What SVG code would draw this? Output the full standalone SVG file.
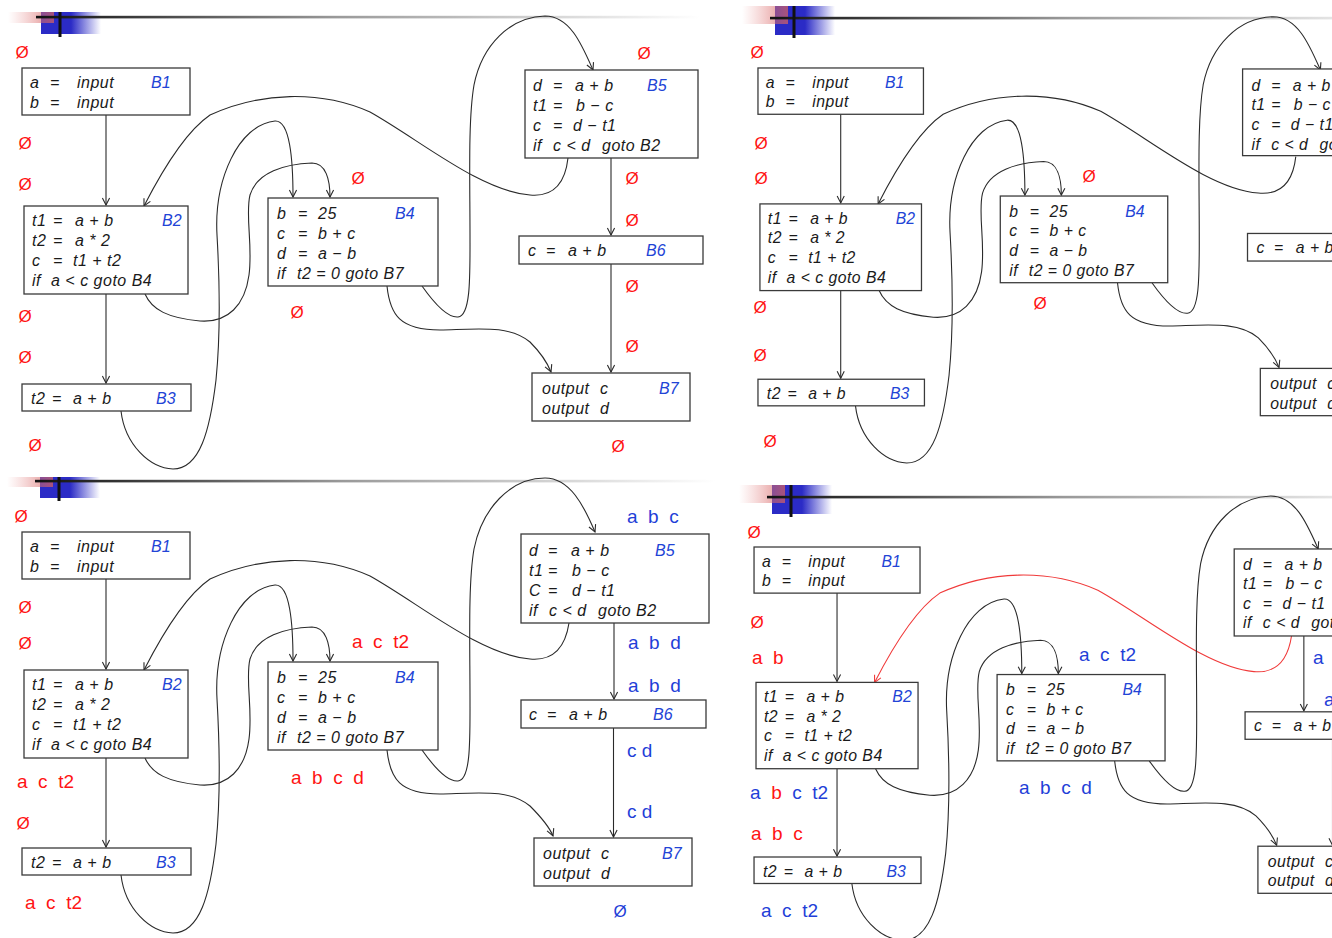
<svg xmlns="http://www.w3.org/2000/svg" width="1332" height="938" viewBox="0 0 1332 938">
<defs>
<style>
.box{fill:#fff;stroke:#3a3a3a;stroke-width:1.3}
.t{font-family:"Liberation Sans",Arial,sans-serif;font-style:italic;font-size:16px;letter-spacing:0.5px;fill:#1a1a1a}
.lb{font-family:"Liberation Sans",Arial,sans-serif;font-style:italic;font-size:16px;fill:#2244d6}
.e{fill:none;stroke:#2a2a2a;stroke-width:1.1;marker-end:url(#ah)}
.er{fill:none;stroke:#f03a3a;stroke-width:1.1;marker-end:url(#ahr)}
.a{font-family:"Liberation Sans",Arial,sans-serif;font-size:19px;white-space:pre}
.z{font-family:"Liberation Sans",Arial,sans-serif;font-size:17px;text-anchor:middle}
.r{fill:#ff1414}
.b{fill:#1f3fd8}
</style>
<linearGradient id="gRed" x1="0" y1="0" x2="1" y2="0"><stop offset="0" stop-color="#e88a8a" stop-opacity="0"/><stop offset="1" stop-color="#d46060" stop-opacity="0.75"/></linearGradient>
<linearGradient id="gBlue" x1="0" y1="0" x2="1" y2="0"><stop offset="0" stop-color="#2b2bc6"/><stop offset="0.5" stop-color="#2b2bc6"/><stop offset="1" stop-color="#2b2bc6" stop-opacity="0"/></linearGradient>
<linearGradient id="gLine" x1="0" y1="0" x2="1" y2="0"><stop offset="0" stop-color="#111"/><stop offset="0.12" stop-color="#333"/><stop offset="0.45" stop-color="#999"/><stop offset="1" stop-color="#fff"/></linearGradient>
<marker id="ah" viewBox="-9 -5 10 10" refX="0" refY="0" markerWidth="10" markerHeight="10" orient="auto" markerUnits="userSpaceOnUse" overflow="visible"><path d="M-7,-3.6 L0,0 L-7,3.6" fill="none" stroke="#2a2a2a" stroke-width="1.1"/></marker>
<marker id="ahr" viewBox="-9 -5 10 10" refX="0" refY="0" markerWidth="10" markerHeight="10" orient="auto" markerUnits="userSpaceOnUse" overflow="visible"><path d="M-7,-3.6 L0,0 L-7,3.6" fill="none" stroke="#f03a3a" stroke-width="1.1"/></marker>
</defs>
<rect width="1332" height="938" fill="#fff"/>

<!-- ================= PANEL 1 ================= -->
<g id="p1-header">
<rect x="41" y="12" width="60" height="22" fill="url(#gBlue)"/>
<rect x="8" y="12" width="46" height="11" fill="url(#gRed)"/>
<rect x="36" y="15.8" width="664" height="2.6" fill="url(#gLine)"/>
<rect x="58.5" y="12" width="3" height="25" fill="#111"/>
</g>
<g id="p1">
<g id="p1-connectors">
<path class="e" d="M106,115 V205"/>
<path class="e" d="M106,294 V383"/>
<path class="e" d="M611,158 V235"/>
<path class="e" d="M611,264 V372"/>
<path class="e" d="M568,158 C565,185 552,197 530,195 C480,191 420,140 370,112 C320,90 260,92 210,115 C188,130 165,165 144,206"/>
<path class="e" d="M145,294 C152,310 168,318 200,321 C228,323 245,305 249,275 C253,245 245,215 250,195 C257,172 285,164 312,163 C326,163 330,180 330,197"/>
<path class="e" d="M121,411 C125,445 150,468 173,469 C200,469 210,430 216,380 C221,330 219,270 217,235 C214,180 238,125 275,121 C290,120 293,160 293,197"/>
<path class="e" d="M422,286 C434,303 447,318 458,317 C471,316 470,275 470,235 C470,180 468,120 474,85 C482,45 510,17 545,16 C570,16 582,45 593,70"/>
<path class="e" d="M387,286 C390,315 400,330 440,330 C480,329 510,325 530,342 C540,352 547,362 551,372"/>
</g>
<g id="p1-B1"><rect class="box" x="22" y="68" width="168" height="47"/>
<text class="t" y="88"><tspan x="30">a </tspan><tspan x="50">= </tspan><tspan x="77">input</tspan></text>
<text class="t" y="108"><tspan x="30">b </tspan><tspan x="50">= </tspan><tspan x="77">input</tspan></text>
<text class="lb" x="151" y="88">B1</text></g>
<g id="p1-B2"><rect class="box" x="24" y="206" width="164" height="88"/>
<text class="t" y="226"><tspan x="32">t1 </tspan><tspan x="53">= </tspan><tspan x="75">a + b</tspan></text>
<text class="t" y="246"><tspan x="32">t2 </tspan><tspan x="53">= </tspan><tspan x="75">a * 2</tspan></text>
<text class="t" y="266"><tspan x="32">c </tspan><tspan x="53">= </tspan><tspan x="73">t1 + t2</tspan></text>
<text class="t" y="286"><tspan x="32">if </tspan><tspan x="51">a &lt; c goto B4</tspan></text>
<text class="lb" x="162" y="226">B2</text></g>
<g id="p1-B3"><rect class="box" x="22" y="384" width="169" height="27"/>
<text class="t" y="404"><tspan x="31">t2 </tspan><tspan x="52">= </tspan><tspan x="73">a + b</tspan></text>
<text class="lb" x="156" y="404">B3</text></g>
<g id="p1-B4"><rect class="box" x="268" y="198" width="170" height="88"/>
<text class="t" y="219"><tspan x="277">b </tspan><tspan x="298">= </tspan><tspan x="318">25</tspan></text>
<text class="t" y="239"><tspan x="277">c </tspan><tspan x="298">= </tspan><tspan x="318">b + c</tspan></text>
<text class="t" y="259"><tspan x="277">d </tspan><tspan x="298">= </tspan><tspan x="318">a − b</tspan></text>
<text class="t" y="279"><tspan x="277">if </tspan><tspan x="297">t2 = 0 goto B7</tspan></text>
<text class="lb" x="395" y="219">B4</text></g>
<g id="p1-B5"><rect class="box" x="525" y="70" width="173" height="88"/>
<text class="t" y="91"><tspan x="533">d </tspan><tspan x="553">= </tspan><tspan x="575">a + b</tspan></text>
<text class="t" y="111"><tspan x="533">t1 </tspan><tspan x="553">= </tspan><tspan x="576">b − c</tspan></text>
<text class="t" y="131"><tspan x="533">c </tspan><tspan x="553">= </tspan><tspan x="573">d − t1</tspan></text>
<text class="t" y="151"><tspan x="533">if </tspan><tspan x="553">c &lt; d </tspan><tspan x="602">goto B2</tspan></text>
<text class="lb" x="647" y="91">B5</text></g>
<g id="p1-B6"><rect class="box" x="519" y="236" width="184" height="28"/>
<text class="t" y="256"><tspan x="528">c </tspan><tspan x="546">= </tspan><tspan x="568">a + b</tspan></text>
<text class="lb" x="646" y="256">B6</text></g>
<g id="p1-B7"><rect class="box" x="532" y="373" width="158" height="48"/>
<text class="t" y="394"><tspan x="542">output </tspan><tspan x="600">c</tspan></text>
<text class="t" y="414"><tspan x="542">output </tspan><tspan x="600">d</tspan></text>
<text class="lb" x="659" y="394">B7</text></g>
</g>
<g id="p1-sets">
<text class="z r" x="22" y="58">Ø</text>
<text class="z r" x="25" y="149">Ø</text>
<text class="z r" x="25" y="190">Ø</text>
<text class="z r" x="358" y="184">Ø</text>
<text class="z r" x="25" y="322">Ø</text>
<text class="z r" x="25" y="363">Ø</text>
<text class="z r" x="35" y="451">Ø</text>
<text class="z r" x="297" y="318">Ø</text>
<text class="z r" x="644" y="59">Ø</text>
<text class="z r" x="632" y="184">Ø</text>
<text class="z r" x="632" y="226">Ø</text>
<text class="z r" x="632" y="292">Ø</text>
<text class="z r" x="632" y="352">Ø</text>
<text class="z r" x="618" y="452">Ø</text>
</g>

<!-- ================= PANEL 2 ================= -->
<g id="p2-header">
<rect x="775" y="6" width="60" height="29" fill="url(#gBlue)"/>
<rect x="742" y="6" width="46" height="18" fill="url(#gRed)"/>
<rect x="770" y="16.8" width="660" height="2.6" fill="url(#gLine)"/>
<rect x="792.5" y="6" width="3" height="32" fill="#111"/>
</g>
<g id="p2" transform="matrix(0.985 0 0 0.985 736.3 1)">
<g id="p2-connectors">
<path class="e" d="M106,115 V205"/>
<path class="e" d="M106,294 V383"/>
<path class="e" d="M568,158 C565,185 552,197 530,195 C480,191 420,140 370,112 C320,90 260,92 210,115 C188,130 165,165 144,206"/>
<path class="e" d="M145,294 C152,310 168,318 200,321 C228,323 245,305 249,275 C253,245 245,215 250,195 C257,172 285,164 312,163 C326,163 330,180 330,197"/>
<path class="e" d="M121,411 C125,445 150,468 173,469 C200,469 210,430 216,380 C221,330 219,270 217,235 C214,180 238,125 275,121 C290,120 293,160 293,197"/>
<path class="e" d="M422,286 C434,303 447,318 458,317 C471,316 470,275 470,235 C470,180 468,120 474,85 C482,45 510,17 545,16 C570,16 582,45 593,70"/>
<path class="e" d="M387,286 C390,315 400,330 440,330 C480,329 510,325 530,342 C540,352 547,362 551,372"/>
</g>
<g id="p2-B1"><rect class="box" x="22" y="68" width="168" height="47"/>
<text class="t" y="88"><tspan x="30">a </tspan><tspan x="50">= </tspan><tspan x="77">input</tspan></text>
<text class="t" y="108"><tspan x="30">b </tspan><tspan x="50">= </tspan><tspan x="77">input</tspan></text>
<text class="lb" x="151" y="88">B1</text></g>
<g id="p2-B2"><rect class="box" x="24" y="206" width="164" height="88"/>
<text class="t" y="226"><tspan x="32">t1 </tspan><tspan x="53">= </tspan><tspan x="75">a + b</tspan></text>
<text class="t" y="246"><tspan x="32">t2 </tspan><tspan x="53">= </tspan><tspan x="75">a * 2</tspan></text>
<text class="t" y="266"><tspan x="32">c </tspan><tspan x="53">= </tspan><tspan x="73">t1 + t2</tspan></text>
<text class="t" y="286"><tspan x="32">if </tspan><tspan x="51">a &lt; c goto B4</tspan></text>
<text class="lb" x="162" y="226">B2</text></g>
<g id="p2-B3"><rect class="box" x="22" y="384" width="169" height="27"/>
<text class="t" y="404"><tspan x="31">t2 </tspan><tspan x="52">= </tspan><tspan x="73">a + b</tspan></text>
<text class="lb" x="156" y="404">B3</text></g>
<g id="p2-B4"><rect class="box" x="268" y="198" width="170" height="88"/>
<text class="t" y="219"><tspan x="277">b </tspan><tspan x="298">= </tspan><tspan x="318">25</tspan></text>
<text class="t" y="239"><tspan x="277">c </tspan><tspan x="298">= </tspan><tspan x="318">b + c</tspan></text>
<text class="t" y="259"><tspan x="277">d </tspan><tspan x="298">= </tspan><tspan x="318">a − b</tspan></text>
<text class="t" y="279"><tspan x="277">if </tspan><tspan x="297">t2 = 0 goto B7</tspan></text>
<text class="lb" x="395" y="219">B4</text></g>
<g id="p2-B5"><rect class="box" x="514" y="69" width="173" height="88"/>
<text class="t" y="91"><tspan x="523">d </tspan><tspan x="543">= </tspan><tspan x="565">a + b</tspan></text>
<text class="t" y="111"><tspan x="523">t1 </tspan><tspan x="543">= </tspan><tspan x="566">b − c</tspan></text>
<text class="t" y="131"><tspan x="523">c </tspan><tspan x="543">= </tspan><tspan x="563">d − t1</tspan></text>
<text class="t" y="151"><tspan x="523">if </tspan><tspan x="543">c &lt; d </tspan><tspan x="592">goto B2</tspan></text>
<text class="lb" x="637" y="91">B5</text></g>
<g id="p2-B6"><rect class="box" x="519" y="236" width="184" height="28"/>
<text class="t" y="256"><tspan x="528">c </tspan><tspan x="546">= </tspan><tspan x="568">a + b</tspan></text>
<text class="lb" x="646" y="256">B6</text></g>
<g id="p2-B7"><rect class="box" x="532" y="373" width="158" height="48"/>
<text class="t" y="394"><tspan x="542">output </tspan><tspan x="600">c</tspan></text>
<text class="t" y="414"><tspan x="542">output </tspan><tspan x="600">d</tspan></text>
<text class="lb" x="659" y="394">B7</text></g>
</g>
<g id="p2-sets">
<text class="z r" x="757" y="58">Ø</text>
<text class="z r" x="761" y="149">Ø</text>
<text class="z r" x="761" y="184">Ø</text>
<text class="z r" x="1089" y="182">Ø</text>
<text class="z r" x="760" y="313">Ø</text>
<text class="z r" x="760" y="361">Ø</text>
<text class="z r" x="770" y="447">Ø</text>
<text class="z r" x="1040" y="309">Ø</text>
</g>

<!-- ================= PANEL 3 ================= -->
<g id="p3-header">
<rect x="40" y="477" width="60" height="21" fill="url(#gBlue)"/>
<rect x="7" y="477" width="46" height="10" fill="url(#gRed)"/>
<rect x="35" y="479.8" width="680" height="2.6" fill="url(#gLine)"/>
<rect x="57.5" y="477" width="3" height="24" fill="#111"/>
</g>
<g id="p3" transform="translate(0 464)">
<g id="p3-connectors">
<path class="e" d="M106,115 V205"/>
<path class="e" d="M106,294 V383"/>
<path class="e" d="M614,159 V235"/>
<path class="e" d="M613.5,264 V373"/>
<path class="e" d="M569,159 C565,185 552,197 530,195 C480,191 420,140 370,112 C320,90 260,92 210,115 C188,130 165,165 144,206"/>
<path class="e" d="M145,294 C152,310 168,318 200,321 C228,323 245,305 249,275 C253,245 245,215 250,195 C257,172 285,164 312,163 C326,163 330,180 330,197"/>
<path class="e" d="M121,411 C125,445 150,468 173,469 C200,469 210,430 216,380 C221,330 219,270 217,235 C214,180 238,125 275,121 C290,120 293,160 293,197"/>
<path class="e" d="M422,286 C434,303 447,318 458,317 C471,316 470,275 470,235 C470,180 468,120 474,85 C482,45 510,14 545,14 C570,14 584,42 595,68"/>
<path class="e" d="M387,286 C390,315 400,330 440,330 C480,329 510,325 530,342 C540,352 549,362 553,372"/>
</g>
<g id="p3-B1"><rect class="box" x="22" y="68" width="168" height="47"/>
<text class="t" y="88"><tspan x="30">a </tspan><tspan x="50">= </tspan><tspan x="77">input</tspan></text>
<text class="t" y="108"><tspan x="30">b </tspan><tspan x="50">= </tspan><tspan x="77">input</tspan></text>
<text class="lb" x="151" y="88">B1</text></g>
<g id="p3-B2"><rect class="box" x="24" y="206" width="164" height="88"/>
<text class="t" y="226"><tspan x="32">t1 </tspan><tspan x="53">= </tspan><tspan x="75">a + b</tspan></text>
<text class="t" y="246"><tspan x="32">t2 </tspan><tspan x="53">= </tspan><tspan x="75">a * 2</tspan></text>
<text class="t" y="266"><tspan x="32">c </tspan><tspan x="53">= </tspan><tspan x="73">t1 + t2</tspan></text>
<text class="t" y="286"><tspan x="32">if </tspan><tspan x="51">a &lt; c goto B4</tspan></text>
<text class="lb" x="162" y="226">B2</text></g>
<g id="p3-B3"><rect class="box" x="22" y="384" width="169" height="27"/>
<text class="t" y="404"><tspan x="31">t2 </tspan><tspan x="52">= </tspan><tspan x="73">a + b</tspan></text>
<text class="lb" x="156" y="404">B3</text></g>
<g id="p3-B4"><rect class="box" x="268" y="198" width="170" height="88"/>
<text class="t" y="219"><tspan x="277">b </tspan><tspan x="298">= </tspan><tspan x="318">25</tspan></text>
<text class="t" y="239"><tspan x="277">c </tspan><tspan x="298">= </tspan><tspan x="318">b + c</tspan></text>
<text class="t" y="259"><tspan x="277">d </tspan><tspan x="298">= </tspan><tspan x="318">a − b</tspan></text>
<text class="t" y="279"><tspan x="277">if </tspan><tspan x="297">t2 = 0 goto B7</tspan></text>
<text class="lb" x="395" y="219">B4</text></g>
<g id="p3-B5"><rect class="box" x="521" y="70" width="188" height="89"/>
<text class="t" y="92"><tspan x="529">d </tspan><tspan x="548">= </tspan><tspan x="571">a + b</tspan></text>
<text class="t" y="112"><tspan x="529">t1 </tspan><tspan x="548">= </tspan><tspan x="572">b − c</tspan></text>
<text class="t" y="132"><tspan x="529">C </tspan><tspan x="548">= </tspan><tspan x="572">d − t1</tspan></text>
<text class="t" y="152"><tspan x="529">if </tspan><tspan x="549">c &lt; d </tspan><tspan x="598">goto B2</tspan></text>
<text class="lb" x="655" y="92">B5</text></g>
<g id="p3-B6"><rect class="box" x="521" y="236" width="185" height="28"/>
<text class="t" y="256"><tspan x="529">c </tspan><tspan x="547">= </tspan><tspan x="569">a + b</tspan></text>
<text class="lb" x="653" y="256">B6</text></g>
<g id="p3-B7"><rect class="box" x="534" y="374" width="158" height="48"/>
<text class="t" y="395"><tspan x="543">output </tspan><tspan x="601">c</tspan></text>
<text class="t" y="415"><tspan x="543">output </tspan><tspan x="601">d</tspan></text>
<text class="lb" x="662" y="395">B7</text></g>
</g>
<g id="p3-sets">
<text class="z r" x="21" y="522">Ø</text>
<text class="z r" x="25" y="613">Ø</text>
<text class="z r" x="25" y="649">Ø</text>
<text class="z r" x="23" y="829">Ø</text>
<text class="a r" x="17" y="788" xml:space="preserve">a  c  t2</text>
<text class="a r" x="25" y="909" xml:space="preserve">a  c  t2</text>
<text class="a r" x="352" y="648" xml:space="preserve">a  c  t2</text>
<text class="a r" x="291" y="784" xml:space="preserve">a  b  c  d</text>
<text class="a b" x="627" y="523" xml:space="preserve">a  b  c</text>
<text class="a b" x="628" y="649" xml:space="preserve">a  b  d</text>
<text class="a b" x="628" y="692" xml:space="preserve">a  b  d</text>
<text class="a b" x="627" y="757" xml:space="preserve">c d</text>
<text class="a b" x="627" y="818" xml:space="preserve">c d</text>
<text class="z b" x="620" y="917">Ø</text>
</g>

<!-- ================= PANEL 4 ================= -->
<g id="p4-header">
<rect x="772" y="485" width="60" height="29" fill="url(#gBlue)"/>
<rect x="739" y="485" width="46" height="18" fill="url(#gRed)"/>
<rect x="767" y="495.8" width="660" height="2.6" fill="url(#gLine)"/>
<rect x="789.5" y="485" width="3" height="32" fill="#111"/>
</g>
<g id="p4" transform="matrix(0.988 0 0 0.981 732.3 480.3)">
<g id="p4-connectors">
<path class="e" d="M106,115 V205"/>
<path class="e" d="M106,294 V383"/>
<path class="e" d="M578.5,158.7 V235"/>
<path class="e" d="M607.5,264 V372"/>
<path class="er" d="M566,158.7 C562,185 550,197 528,195 C480,191 420,140 370,112 C320,90 260,92 210,115 C188,130 165,165 144,206"/>
<path class="e" d="M145,294 C152,310 168,318 200,321 C228,323 245,305 249,275 C253,245 245,215 250,195 C257,172 285,164 312,163 C326,163 330,180 330,197"/>
<path class="e" d="M121,411 C125,445 150,468 173,469 C200,469 210,430 216,380 C221,330 219,270 217,235 C214,180 238,125 275,121 C290,120 293,160 293,197"/>
<path class="e" d="M422,286 C434,303 447,318 458,317 C471,316 470,275 470,235 C470,180 468,120 474,85 C482,45 510,17 545,16 C570,16 582,45 593,70"/>
<path class="e" d="M387,286 C390,315 400,330 440,330 C480,329 510,325 530,342 C540,352 547,362 551,372"/>
</g>
<g id="p4-B1"><rect class="box" x="22" y="68" width="168" height="47"/>
<text class="t" y="88"><tspan x="30">a </tspan><tspan x="50">= </tspan><tspan x="77">input</tspan></text>
<text class="t" y="108"><tspan x="30">b </tspan><tspan x="50">= </tspan><tspan x="77">input</tspan></text>
<text class="lb" x="151" y="88">B1</text></g>
<g id="p4-B2"><rect class="box" x="24" y="206" width="164" height="88"/>
<text class="t" y="226"><tspan x="32">t1 </tspan><tspan x="53">= </tspan><tspan x="75">a + b</tspan></text>
<text class="t" y="246"><tspan x="32">t2 </tspan><tspan x="53">= </tspan><tspan x="75">a * 2</tspan></text>
<text class="t" y="266"><tspan x="32">c </tspan><tspan x="53">= </tspan><tspan x="73">t1 + t2</tspan></text>
<text class="t" y="286"><tspan x="32">if </tspan><tspan x="51">a &lt; c goto B4</tspan></text>
<text class="lb" x="162" y="226">B2</text></g>
<g id="p4-B3"><rect class="box" x="22" y="384" width="169" height="27"/>
<text class="t" y="404"><tspan x="31">t2 </tspan><tspan x="52">= </tspan><tspan x="73">a + b</tspan></text>
<text class="lb" x="156" y="404">B3</text></g>
<g id="p4-B4"><rect class="box" x="268" y="198" width="170" height="88"/>
<text class="t" y="219"><tspan x="277">b </tspan><tspan x="298">= </tspan><tspan x="318">25</tspan></text>
<text class="t" y="239"><tspan x="277">c </tspan><tspan x="298">= </tspan><tspan x="318">b + c</tspan></text>
<text class="t" y="259"><tspan x="277">d </tspan><tspan x="298">= </tspan><tspan x="318">a − b</tspan></text>
<text class="t" y="279"><tspan x="277">if </tspan><tspan x="297">t2 = 0 goto B7</tspan></text>
<text class="lb" x="395" y="219">B4</text></g>
<g id="p4-B5"><rect class="box" x="508" y="70" width="173" height="88.7"/>
<text class="t" y="91"><tspan x="517">d </tspan><tspan x="537">= </tspan><tspan x="559">a + b</tspan></text>
<text class="t" y="111"><tspan x="517">t1 </tspan><tspan x="537">= </tspan><tspan x="560">b − c</tspan></text>
<text class="t" y="131"><tspan x="517">c </tspan><tspan x="537">= </tspan><tspan x="557">d − t1</tspan></text>
<text class="t" y="151"><tspan x="517">if </tspan><tspan x="537">c &lt; d </tspan><tspan x="586">goto B2</tspan></text>
<text class="lb" x="631" y="91">B5</text></g>
<g id="p4-B6"><rect class="box" x="519" y="236" width="184" height="28"/>
<text class="t" y="256"><tspan x="528">c </tspan><tspan x="546">= </tspan><tspan x="568">a + b</tspan></text>
<text class="lb" x="646" y="256">B6</text></g>
<g id="p4-B7"><rect class="box" x="532" y="373" width="158" height="48"/>
<text class="t" y="394"><tspan x="542">output </tspan><tspan x="600">c</tspan></text>
<text class="t" y="414"><tspan x="542">output </tspan><tspan x="600">d</tspan></text>
<text class="lb" x="659" y="394">B7</text></g>
</g>
<g id="p4-sets">
<text class="z r" x="754" y="538">Ø</text>
<text class="z r" x="757" y="628">Ø</text>
<text class="a r" x="752" y="664" xml:space="preserve">a  b</text>
<text class="a b" x="1079" y="661" xml:space="preserve">a  c  t2</text>
<text class="a b" x="1313" y="664" xml:space="preserve">a  b  d</text>
<text class="a b" x="1324" y="706" xml:space="preserve">a  b  d</text>
<text class="a b" x="1019" y="794" xml:space="preserve">a  b  c  d</text>
<text class="a" x="750" y="799" xml:space="preserve"><tspan class="b">a  </tspan><tspan class="r">b  </tspan><tspan class="b">c  t2</tspan></text>
<text class="a r" x="751" y="840" xml:space="preserve">a  b  c</text>
<text class="a b" x="761" y="917" xml:space="preserve">a  c  t2</text>
</g>
</svg>
